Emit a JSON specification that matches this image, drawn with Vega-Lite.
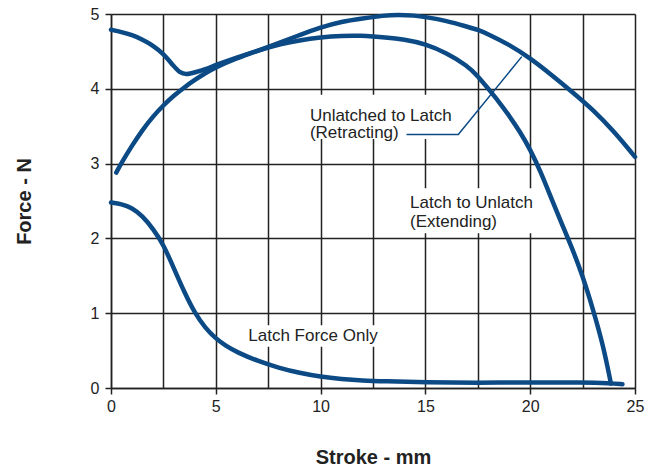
{
  "$schema": "https://vega.github.io/schema/vega-lite/v6.json",
  "width": 524,
  "height": 374,
  "autosize": "none",
  "padding": {"left": 111, "top": 14, "right": 25, "bottom": 85},
  "background": "white",
  "config": {
    "view": {"stroke": null},
    "font": "Liberation Sans",
    "axis": {
      "domainColor": "#222222",
      "domainWidth": 1.5,
      "gridColor": "#222222",
      "gridWidth": 1.5,
      "gridOpacity": 1,
      "tickColor": "#222222",
      "tickWidth": 1.5,
      "tickSize": 6,
      "labelFlush": false,
      "labelFont": "Liberation Sans",
      "labelFontSize": 16,
      "labelColor": "#222222",
      "titleFont": "Liberation Sans",
      "titleFontSize": 20,
      "titleFontWeight": "bold",
      "titleColor": "#222222"
    }
  },
  "datasets": {
    "curves": [
      {"series": "A", "x": 0, "y": 4.79}, {"series": "A", "x": 0.5, "y": 4.76}, {"series": "A", "x": 1, "y": 4.72},
      {"series": "A", "x": 1.5, "y": 4.66}, {"series": "A", "x": 2, "y": 4.58}, {"series": "A", "x": 2.5, "y": 4.47},
      {"series": "A", "x": 3, "y": 4.3}, {"series": "A", "x": 3.3, "y": 4.21}, {"series": "A", "x": 3.6, "y": 4.19},
      {"series": "A", "x": 4, "y": 4.22}, {"series": "A", "x": 4.5, "y": 4.26}, {"series": "A", "x": 5, "y": 4.32},
      {"series": "A", "x": 6, "y": 4.42}, {"series": "A", "x": 7, "y": 4.51}, {"series": "A", "x": 7.5, "y": 4.55},
      {"series": "A", "x": 8, "y": 4.59}, {"series": "A", "x": 9, "y": 4.65}, {"series": "A", "x": 10, "y": 4.69},
      {"series": "A", "x": 11, "y": 4.71}, {"series": "A", "x": 12, "y": 4.71}, {"series": "A", "x": 12.5, "y": 4.7},
      {"series": "A", "x": 13, "y": 4.69}, {"series": "A", "x": 14, "y": 4.66}, {"series": "A", "x": 15, "y": 4.6},
      {"series": "A", "x": 16, "y": 4.48}, {"series": "A", "x": 17, "y": 4.31}, {"series": "A", "x": 17.5, "y": 4.17},
      {"series": "A", "x": 18, "y": 4.0}, {"series": "A", "x": 18.5, "y": 3.83}, {"series": "A", "x": 19, "y": 3.64},
      {"series": "A", "x": 19.5, "y": 3.43}, {"series": "A", "x": 20, "y": 3.19}, {"series": "A", "x": 20.5, "y": 2.89},
      {"series": "A", "x": 21, "y": 2.54}, {"series": "A", "x": 21.5, "y": 2.2}, {"series": "A", "x": 22, "y": 1.87},
      {"series": "A", "x": 22.5, "y": 1.5}, {"series": "A", "x": 23, "y": 1.05}, {"series": "A", "x": 23.5, "y": 0.55},
      {"series": "A", "x": 23.85, "y": 0.06},
      {"series": "B", "x": 0.25, "y": 2.88}, {"series": "B", "x": 0.5, "y": 3.01}, {"series": "B", "x": 1, "y": 3.24},
      {"series": "B", "x": 1.5, "y": 3.45}, {"series": "B", "x": 2, "y": 3.63}, {"series": "B", "x": 2.5, "y": 3.78},
      {"series": "B", "x": 3, "y": 3.91}, {"series": "B", "x": 3.5, "y": 4.02}, {"series": "B", "x": 4, "y": 4.12},
      {"series": "B", "x": 4.5, "y": 4.21}, {"series": "B", "x": 5, "y": 4.29}, {"series": "B", "x": 6, "y": 4.41},
      {"series": "B", "x": 7, "y": 4.51}, {"series": "B", "x": 7.5, "y": 4.56}, {"series": "B", "x": 8, "y": 4.61},
      {"series": "B", "x": 9, "y": 4.72}, {"series": "B", "x": 10, "y": 4.82}, {"series": "B", "x": 11, "y": 4.9},
      {"series": "B", "x": 12, "y": 4.94}, {"series": "B", "x": 13, "y": 4.98}, {"series": "B", "x": 13.7, "y": 4.99},
      {"series": "B", "x": 14.5, "y": 4.98}, {"series": "B", "x": 15, "y": 4.96}, {"series": "B", "x": 16, "y": 4.91},
      {"series": "B", "x": 17, "y": 4.83}, {"series": "B", "x": 17.5, "y": 4.79}, {"series": "B", "x": 18, "y": 4.73},
      {"series": "B", "x": 19, "y": 4.59}, {"series": "B", "x": 20, "y": 4.41}, {"series": "B", "x": 21, "y": 4.19},
      {"series": "B", "x": 22, "y": 3.96}, {"series": "B", "x": 23, "y": 3.72}, {"series": "B", "x": 24, "y": 3.43},
      {"series": "B", "x": 25, "y": 3.09},
      {"series": "C", "x": 0, "y": 2.48}, {"series": "C", "x": 0.5, "y": 2.46}, {"series": "C", "x": 1, "y": 2.41},
      {"series": "C", "x": 1.5, "y": 2.3}, {"series": "C", "x": 2, "y": 2.13}, {"series": "C", "x": 2.5, "y": 1.92},
      {"series": "C", "x": 3, "y": 1.6}, {"series": "C", "x": 3.5, "y": 1.28}, {"series": "C", "x": 4, "y": 1.0},
      {"series": "C", "x": 4.5, "y": 0.8}, {"series": "C", "x": 5, "y": 0.66}, {"series": "C", "x": 5.5, "y": 0.56},
      {"series": "C", "x": 6, "y": 0.48}, {"series": "C", "x": 7, "y": 0.36}, {"series": "C", "x": 8, "y": 0.27},
      {"series": "C", "x": 9, "y": 0.2}, {"series": "C", "x": 10, "y": 0.15}, {"series": "C", "x": 11, "y": 0.12},
      {"series": "C", "x": 12, "y": 0.1}, {"series": "C", "x": 13, "y": 0.09}, {"series": "C", "x": 15, "y": 0.075},
      {"series": "C", "x": 17.5, "y": 0.07}, {"series": "C", "x": 20, "y": 0.075}, {"series": "C", "x": 22.5, "y": 0.075},
      {"series": "C", "x": 23.8, "y": 0.065}, {"series": "C", "x": 24.4, "y": 0.05}
    ],
    "boxes": [
      {"x": 9.2, "x2": 16.6, "y": 3.33, "y2": 3.92},
      {"x": 14.0, "x2": 20.6, "y": 2.07, "y2": 2.67},
      {"x": 6.35, "x2": 13.1, "y": 0.55, "y2": 0.84}
    ],
    "labels": [
      {"text": "Unlatched to Latch", "x": 9.49, "y": 3.64},
      {"text": "(Retracting)", "x": 9.49, "y": 3.41},
      {"text": "Latch to Unlatch", "x": 14.27, "y": 2.47},
      {"text": "(Extending)", "x": 14.27, "y": 2.22},
      {"text": "Latch Force Only", "x": 6.55, "y": 0.7}
    ],
    "leader": [
      {"i": 0, "x": 14.1, "y": 3.39},
      {"i": 1, "x": 16.57, "y": 3.39},
      {"i": 2, "x": 19.6, "y": 4.43}
    ]
  },
  "encoding": {
    "x": {
      "field": "x", "type": "quantitative",
      "scale": {"domain": [0, 25], "nice": false, "zero": false},
      "axis": {
        "title": "Stroke - mm",
        "titlePadding": 33,
        "values": [0, 2.5, 5, 7.5, 10, 12.5, 15, 17.5, 20, 22.5, 25],
        "labelExpr": "datum.value % 5 === 0 ? datum.label : ''",
        "tickOpacity": {"condition": {"test": "datum.value % 5 !== 0", "value": 0}, "value": 1},
        "labelPadding": 4,
        "grid": true
      }
    },
    "y": {
      "field": "y", "type": "quantitative",
      "scale": {"domain": [0, 5], "nice": false},
      "axis": {
        "title": "Force - N",
        "titlePadding": 56,
        "values": [0, 1, 2, 3, 4, 5],
        "labelPadding": 6,
        "grid": true
      }
    }
  },
  "layer": [
    {
      "data": {"name": "boxes"},
      "mark": {"type": "rect", "color": "white"},
      "encoding": {"x2": {"field": "x2"}, "y2": {"field": "y2"}}
    },
    {
      "data": {"name": "curves"},
      "mark": {"type": "line", "color": "#0b4a85", "strokeWidth": 4.5, "interpolate": "basis", "strokeCap": "round"},
      "encoding": {"detail": {"field": "series"}}
    },
    {
      "data": {"name": "leader"},
      "mark": {"type": "line", "color": "#0b4a85", "strokeWidth": 1.5},
      "encoding": {"order": {"field": "i"}}
    },
    {
      "data": {"name": "labels"},
      "mark": {"type": "text", "align": "left", "baseline": "middle", "fontSize": 17, "color": "#222222", "font": "Liberation Sans"},
      "encoding": {"text": {"field": "text"}}
    }
  ]
}
